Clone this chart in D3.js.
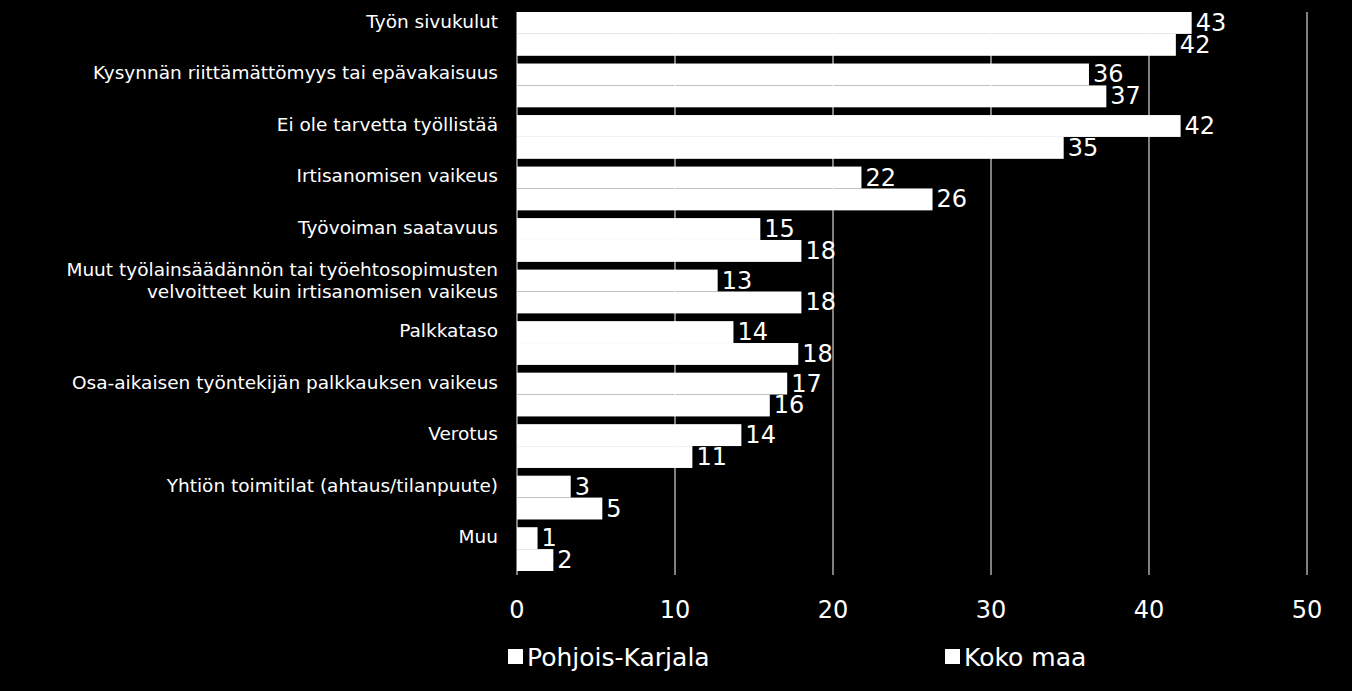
<!DOCTYPE html>
<html><head><meta charset="utf-8">
<script src="https://cdn.jsdelivr.net/npm/d3@7"></script>
<style>body{margin:0;background:#000}</style>
</head><body><div id="chart"></div>
<script>
var categories = [
    ["Työn sivukulut"],
    ["Kysynnän riittämättömyys tai epävakaisuus"],
    ["Ei ole tarvetta työllistää"],
    ["Irtisanomisen vaikeus"],
    ["Työvoiman saatavuus"],
    ["Muut työlainsäädännön tai työehtosopimusten", "velvoitteet kuin irtisanomisen vaikeus"],
    ["Palkkataso"],
    ["Osa-aikaisen työntekijän palkkauksen vaikeus"],
    ["Verotus"],
    ["Yhtiön toimitilat (ahtaus/tilanpuute)"],
    ["Muu"]
];
var pohjoisKarjala = [42.7, 36.2, 42.0, 21.8, 15.4, 12.7, 13.7, 17.1, 14.2, 3.4, 1.3];
var kokoMaa = [41.7, 37.3, 34.6, 26.3, 18.0, 18.0, 17.8, 16.0, 11.1, 5.4, 2.3];
var seriesNames = ["Pohjois-Karjala", "Koko maa"];
var xTicks = [0, 10, 20, 30, 40, 50];

var W = 1352, H = 691;
var margin = { left: 517, right: 45, top: 12, bottom: 116 };
var width = W - margin.left - margin.right;
var height = H - margin.top - margin.bottom;

var svg = d3.select("#chart").append("svg")
    .attr("width", W).attr("height", H)
    .style("background", "#000")
    .style("font-family", "'DejaVu Sans', sans-serif");
var g = svg.append("g")
    .attr("transform", "translate(" + margin.left + "," + margin.top + ")");

var x = d3.scaleLinear().domain([0, 50]).range([0, width]);
var y = d3.scaleBand().domain(d3.range(categories.length)).range([0, height - 4]).paddingInner(0.15).paddingOuter(0);
var sub = d3.scaleBand().domain([0, 1]).range([0, y.bandwidth()]);

// gridlines
g.selectAll(".grid").data(xTicks.slice(1)).enter().append("line")
    .attr("x1", d => x(d)).attr("x2", d => x(d))
    .attr("y1", 0).attr("y2", height)
    .attr("stroke", "#fff").attr("stroke-width", 1);
g.append("line").attr("x1", 0).attr("x2", 0).attr("y1", 0).attr("y2", height)
    .attr("stroke", "#fff");

// tick labels
g.selectAll(".tick").data(xTicks).enter().append("text")
    .attr("x", d => x(d)).attr("y", height + 43)
    .attr("text-anchor", "middle").attr("fill", "#fff")
    .style("font-size", "24px").text(d => d);

var series = [pohjoisKarjala, kokoMaa];
series.forEach(function (vals, s) {
    g.selectAll(".bar" + s).data(vals).enter().append("rect")
        .attr("x", 0)
        .attr("y", (d, i) => y(i) + sub(s))
        .attr("width", d => x(d))
        .attr("height", sub.bandwidth())
        .attr("fill", "#fff");
    g.selectAll(".lab" + s).data(vals).enter().append("text")
        .attr("x", d => x(d) + 4)
        .attr("y", (d, i) => y(i) + sub(s) + sub.bandwidth() / 2 + 8)
        .attr("fill", "#fff").style("font-size", "24px")
        .text(d => Math.round(d));
});

// category labels
categories.forEach(function (lines, i) {
    var t = g.append("text")
        .attr("text-anchor", "end").attr("fill", "#fff")
        .style("font-size", "18.5px")
        .attr("x", -19)
        .attr("y", y(i) + y.bandwidth() / 2 - 6 - (lines.length - 1) * 10);
    lines.forEach(function (l, k) {
        t.append("tspan").attr("x", -19).attr("dy", k === 0 ? 0 : 22).text(l);
    });
});

// legend
var legendX = [508, 945];
seriesNames.forEach(function (n, i) {
    svg.append("rect").attr("x", legendX[i]).attr("y", 649).attr("width", 15).attr("height", 15).attr("fill", "#fff");
    svg.append("text").attr("x", legendX[i] + 19).attr("y", 666)
        .attr("fill", "#fff").style("font-size", "25px").text(n);
});
</script>
</body></html>
